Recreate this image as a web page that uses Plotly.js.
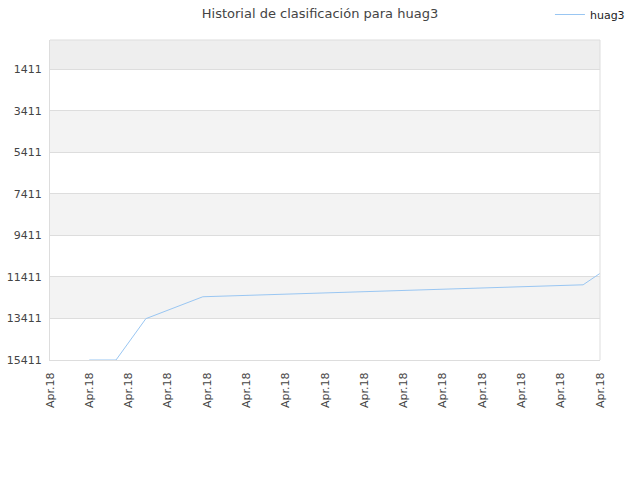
<!DOCTYPE html>
<html>
<head>
<meta charset="utf-8">
<script src="https://cdn.plot.ly/plotly-3.0.1.min.js"></script>
<style>html,body{margin:0;padding:0;background:#fff;}#chart{width:640px;height:480px;}</style>
</head>
<body>
<div id="chart"></div>
<script>
var seriesName = "huag3";
var xPos = [1.0, 1.68, 2.44, 3.89, 13.57, 14.0];
var ranks = [15411, 15411, 13420, 12365, 11790, 11240];
var tickPositions = [0,1,2,3,4,5,6,7,8,9,10,11,12,13,14];
var tickLabels = ["Apr.18","Apr.18","Apr.18","Apr.18","Apr.18","Apr.18","Apr.18","Apr.18","Apr.18","Apr.18","Apr.18","Apr.18","Apr.18","Apr.18","Apr.18"];
var yTicks = [1411, 3411, 5411, 7411, 9411, 11411, 13411, 15411];
var bands = [[0, 1411, "#eeeeee"], [3411, 5411, "#f3f3f3"], [7411, 9411, "#f3f3f3"], [11411, 13411, "#f3f3f3"]];

var shapes = bands.map(function(b){
  return {type:"rect", xref:"paper", yref:"y", x0:0, x1:1, y0:b[0], y1:b[1], fillcolor:b[2], line:{width:0}, layer:"below"};
});
shapes.push({type:"line", xref:"paper", yref:"paper", x0:0, x1:1, y0:1, y1:1, line:{color:"#dddddd", width:1}});
shapes.push({type:"line", xref:"paper", yref:"paper", x0:1, x1:1, y0:0, y1:1, line:{color:"#dddddd", width:1}});

var trace = {
  x: xPos, y: ranks, type: "scatter", mode: "lines", name: seriesName,
  line: {color: "#99c6f2", width: 1}
};

var layout = {
  width: 640, height: 480,
  margin: {l: 50, r: 40, t: 40, b: 120},
  paper_bgcolor: "#ffffff", plot_bgcolor: "#ffffff",
  font: {family: "DejaVu Sans, sans-serif", size: 11, color: "#444444"},
  title: {text: "Historial de clasificación para huag3", font: {size: 13, color: "#444444"}, x: 0.5, xanchor: "center", y: 0.973, yanchor: "middle"},
  showlegend: true,
  legend: {x: 0.909, xanchor: "left", y: 1.0, yref: "container", yanchor: "top", itemwidth: 30, bgcolor: "rgba(0,0,0,0)", font: {size: 11, color: "#222"}},
  xaxis: {
    range: [0, 14], tickmode: "array", tickvals: tickPositions, ticktext: tickLabels,
    tickangle: -90, showgrid: false, zeroline: false, showline: true, linecolor: "#dddddd", linewidth: 1,
    ticks: "", ticklen: 0, ticklabelstandoff: 7, tickfont: {size: 11, color: "#444"}, fixedrange: true
  },
  yaxis: {
    range: [15411, 0], tickmode: "array", tickvals: yTicks, ticktext: yTicks.map(String),
    showgrid: true, gridcolor: "#dddddd", gridwidth: 1, zeroline: false,
    showline: true, linecolor: "#dddddd", linewidth: 1, ticks: "", ticklabelstandoff: 5,
    tickfont: {size: 11, color: "#444"}
  },
  shapes: shapes
};

Plotly.newPlot("chart", [trace], layout, {displayModeBar: false, staticPlot: true});
</script>
</body>
</html>
